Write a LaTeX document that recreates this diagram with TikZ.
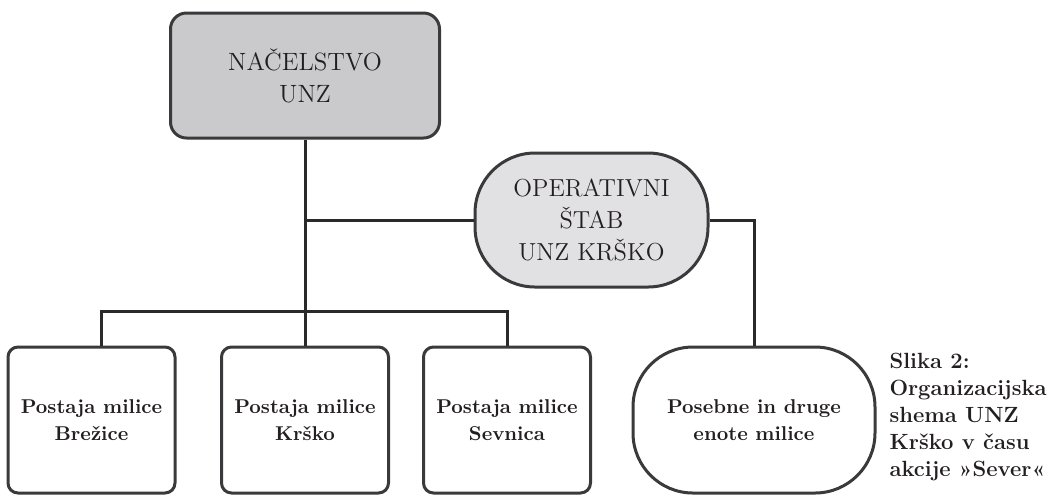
\documentclass[tikz,border=0pt]{standalone}
\usepackage{fontspec}
\usepackage{tikz}
\usetikzlibrary{positioning}

\definecolor{boxline}{HTML}{3A3A3C}
\definecolor{connline}{HTML}{2A2A2A}
\definecolor{topfill}{HTML}{CACACC}
\definecolor{stabfill}{HTML}{E1E1E3}
\definecolor{inkblack}{HTML}{231F20}

\begin{document}
\begin{tikzpicture}
[-,line width=1.5pt,x=0.5pt,y=-0.5pt,%
  every node/.style={draw=boxline,line width=1.5pt,align=center,text=inkblack},%
  head/.style={rectangle,rounded corners=8pt,fill=topfill,minimum width=134.5pt,minimum height=62.5pt,font=\fontsize{12.5}{16}\selectfont},%
  stab/.style={rectangle,rounded corners=30pt,fill=stabfill,minimum width=116.5pt,minimum height=67pt,font=\fontsize{12.3}{16}\selectfont},%
  station/.style={rectangle,rounded corners=5pt,fill=white,minimum width=83.5pt,minimum height=73pt,font=\fontsize{10}{13.5}\selectfont\bfseries},%
  units/.style={rectangle,rounded corners=30pt,fill=white,minimum width=121pt,minimum height=73pt,font=\fontsize{10}{13.5}\selectfont\bfseries},%
  conn/.style={draw=connline,line width=1.5pt}]
\useasboundingbox (0,0) rectangle (1055,495);
% vrh
\node[head] (nac) at (305,75.5) {NAČELSTVO\\UNZ};
\node[stab] (stab) at (591.5,220) {OPERATIVNI\\ŠTAB\\UNZ KRŠKO};
% postaje
\node[station] (pmb) at (91.5,420) {Postaja milice\\Brežice};
\node[station] (pmk) at (305,420) {Postaja milice\\Krško};
\node[station] (pms) at (507,420) {Postaja milice\\Sevnica};
\node[units] (enote) at (754,420) {Posebne in druge\\enote milice};
\node[draw=none,anchor=base west,align=left,inner sep=0pt,font=\fontsize{11}{13.5}\selectfont\bfseries] (cap) at (888,476)
  {Slika 2:\\Organizacijska\\shema UNZ\\Krško v času\\akcije »Sever«};
\coordinate (bus) at (0,311);
% povezave
\draw[conn] (nac) -- (pmk);
\draw[conn] (nac.south |- stab.west) -- (stab.west);
\draw[conn] (stab.east) -| (enote.north);
\draw[conn] ([xshift=5pt]pmb.north) |- (bus -| pms.north) -- (pms.north);
\end{tikzpicture}
\end{document}
